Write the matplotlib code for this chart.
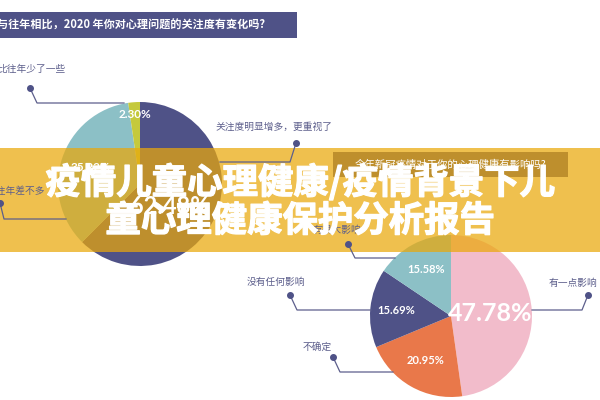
import matplotlib
matplotlib.use('Agg')
import numpy as np
import matplotlib.pyplot as plt
import matplotlib.patheffects as pe
from matplotlib.patches import Rectangle

plt.rcParams['font.family'] = ['Noto Sans CJK SC', 'DejaVu Sans']

# top chart: 与往年相比，2020 年你对心理问题的关注度有变化吗
top_title = '与往年相比，2020 年你对心理问题的关注度有变化吗?'
top_labels = ['关注度明显增多，更重视了', '与往年差不多', '比往年少了一些']
top_values = [62.48, 35.22, 2.30]

# bottom chart: 今年新冠疫情对于你的心理健康有影响吗
bottom_title = '今年新冠疫情对于你的心理健康有影响吗?'
bottom_labels = ['有一点影响', '不确定', '没有任何影响', '有很大影响']
bottom_values = [47.78, 20.95, 15.69, 15.58]

banner_lines = ['疫情儿童心理健康/疫情背景下儿', '童心理健康保护分析报告']

NAVY = '#4f5287'
TEAL = '#8cc0c6'
LIME = '#c5c93c'
PINK = '#f2bccb'
ORANGE = '#e9784a'
LINE = '#5d5f8c'
H = 400  # pixel height, y is flipped so layout can be given in image pixels


def Y(y):
    return H - y


fig = plt.figure(figsize=(6, 4), dpi=100)
ax = fig.add_axes([0, 0, 1, 1])
ax.set_xlim(0, 600)
ax.set_ylim(0, 400)
ax.axis('off')


def draw_pie(values, colors, center, radius, pct_pos, pct_sizes, shift=None):
    ax.pie(values, colors=colors, startangle=90, counterclock=False,
           center=(center[0], Y(center[1])), radius=radius, frame=True,
           wedgeprops=dict(linewidth=0))
    cum = np.cumsum([0] + values[:-1])
    shift = shift or [0] * len(values)
    for v, c, f, fs, s in zip(values, cum, pct_pos, pct_sizes, shift):
        ang = np.deg2rad(90 - 3.6 * (c + v / 2) + s)
        x = center[0] + radius * f * np.cos(ang)
        y = Y(center[1]) + radius * f * np.sin(ang)
        ax.text(x, y, f'{v:.2f}%', color='white', fontsize=fs,
                fontweight='bold', family=['Lato', 'DejaVu Sans'],
                ha='center', va='center')


def leader(text, text_xy, ha, pts):
    ax.text(text_xy[0], Y(text_xy[1]), text, color=LINE, fontsize=7,
            ha=ha, va='center')
    xs = [p[0] for p in pts]
    ys = [Y(p[1]) for p in pts]
    ax.plot(xs, ys, color=LINE, lw=0.9)
    ax.plot(xs[0], ys[0], 'o', color=NAVY, ms=4)


# top chart
ax.add_patch(Rectangle((0, Y(38)), 297, 26, color=NAVY, lw=0))
ax.text(-3, Y(25), top_title, color='white', fontsize=8, fontweight='bold',
        ha='left', va='center')
draw_pie(top_values, [NAVY, TEAL, LIME], (140, 184), 82,
         [0.46, 0.64, 0.85], [17, 8.5, 8.5], shift=[-15, 0, 0])
leader(top_labels[0], (216, 127), 'left', [(296, 143), (290, 162), (220, 162)])
leader(top_labels[1], (45, 191), 'right', [(0, 203), (4, 219), (66, 219)])
leader(top_labels[2], (65, 69), 'right', [(30, 88), (37, 103), (124, 103)])

# bottom chart
ax.add_patch(Rectangle((333, Y(177)), 235, 25, color=NAVY, lw=0))
ax.text(450, Y(164.5), bottom_title, color='white', fontsize=7.5,
        ha='center', va='center')
draw_pie(bottom_values, [PINK, ORANGE, NAVY, TEAL], (451, 316), 81,
         [0.48, 0.63, 0.68, 0.65], [18, 8, 8, 8])
leader(bottom_labels[0], (597, 283), 'right', [(588, 295), (582, 310), (532, 310)])
leader(bottom_labels[1], (317, 347), 'center', [(333, 357), (340, 372), (393, 372)])
leader(bottom_labels[2], (276, 282), 'center', [(290, 295), (297, 310), (371, 310)])
leader(bottom_labels[3], (337, 230), 'center', [(348, 244), (355, 258), (395, 258)])

# translucent banner with the report title
ax.add_patch(Rectangle((0, Y(252)), 600, 104, color='#eaa80a', alpha=0.72, lw=0))
bold = [pe.Stroke(linewidth=0.9, foreground='white'), pe.Normal()]
for txt, y in zip(banner_lines, [182, 221]):
    ax.text(300, Y(y), txt, color='white', fontsize=25.5, fontweight='heavy',
            ha='center', va='center', path_effects=bold)

fig.savefig('out.png', dpi=100)
